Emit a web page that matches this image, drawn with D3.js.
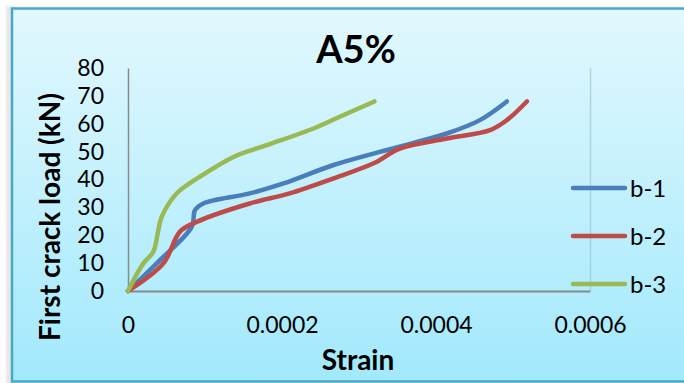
<!DOCTYPE html>
<html>
<head>
<meta charset="utf-8">
<script src="https://cdn.jsdelivr.net/npm/d3@7"></script>
<style>
  html, body { margin: 0; padding: 0; background: #fff; }
  svg { display: block; }
</style>
</head>
<body>
<svg id="chart" width="684" height="383"></svg>
<script>
// Strain readings and first crack loads (kN) for each beam
const seriesNames = ["b-1", "b-2", "b-3"];
const seriesColors = ["#4a7ebb", "#be4b48", "#98b954"];

const strainB1 = [0, 0.0000416, 0.0000827, 0.000087, 0.0000978, 0.000158, 0.000202, 0.000267, 0.000327, 0.000414, 0.000457, 0.000492];
const loadB1   = [0, 11.1, 23, 29, 31.4, 35, 38.6, 45.2, 49.9, 56.5, 61.3, 68];

const strainB2 = [0, 0.0000459, 0.0000675, 0.0000892, 0.000158, 0.00021, 0.000267, 0.000319, 0.000353, 0.000414, 0.00047, 0.000492, 0.000518];
const loadB2   = [0, 9.9, 21.3, 24.8, 31.4, 35, 40.4, 45.8, 51.1, 54.7, 57.7, 61.3, 68];

const strainB3 = [0, 0.0000199, 0.0000329, 0.0000394, 0.0000437, 0.0000632, 0.0000935, 0.000137, 0.00018, 0.000241, 0.000275, 0.00032];
const loadB3   = [0, 9.9, 14.1, 21.9, 26.6, 35, 41, 48.1, 52.3, 58.3, 62.5, 68];

const xTicks = [0, 0.0002, 0.0004, 0.0006];
const xTickLabels = ["0", "0.0002", "0.0004", "0.0006"];
const yTicks = [0, 10, 20, 30, 40, 50, 60, 70, 80];

const chartTitle = "A5%";
const xTitle = "Strain";
const yTitle = "First crack load (kN)";

const series = [
  { name: seriesNames[0], color: seriesColors[0], pts: strainB1.map((s, i) => [s, loadB1[i]]) },
  { name: seriesNames[1], color: seriesColors[1], pts: strainB2.map((s, i) => [s, loadB2[i]]) },
  { name: seriesNames[2], color: seriesColors[2], pts: strainB3.map((s, i) => [s, loadB3[i]]) }
];

const svg = d3.select("#chart");
const W = 684, H = 383;
const font = "Lato, 'Open Sans', sans-serif";

// Background panel with vertical gradient and border
const defs = svg.append("defs");
const grad = defs.append("linearGradient").attr("id", "bg").attr("x1", 0).attr("y1", 0).attr("x2", 0).attr("y2", 1);
grad.append("stop").attr("offset", "0%").attr("stop-color", "#e2f8fe");
grad.append("stop").attr("offset", "100%").attr("stop-color", "#a2e9fc");

const shadow = defs.append("filter").attr("id", "soft").attr("x", "-10%").attr("y", "-10%").attr("width", "120%").attr("height", "140%");
shadow.append("feGaussianBlur").attr("stdDeviation", 1.2);

svg.append("rect").attr("x", 0).attr("y", 0).attr("width", W).attr("height", H).attr("fill", "#fff");
svg.append("rect").attr("x", 6).attr("y", 6).attr("width", 10).attr("height", H).attr("fill", "#e8e8e8").attr("filter", "url(#soft)");
svg.append("rect")
  .attr("x", 12).attr("y", 8.5).attr("width", W).attr("height", H - 10)
  .attr("fill", "url(#bg)").attr("stroke", "#46a9c6").attr("stroke-width", 2.5);

// Plot area
const x = d3.scaleLinear().domain([0, 0.0006]).range([128, 590]);
const y = d3.scaleLinear().domain([0, 80]).range([291, 68]);

// Plot area shadow on right and bottom
svg.append("line").attr("x1", 590.5).attr("x2", 590.5).attr("y1", y(80)).attr("y2", y(0))
  .attr("stroke", "#9cc7d3").attr("stroke-width", 1.5).attr("opacity", 0.7);
svg.append("line").attr("x1", 128).attr("x2", 591).attr("y1", y(0) + 2.5).attr("y2", y(0) + 2.5)
  .attr("stroke", "#6a8f99").attr("stroke-width", 2).attr("opacity", 0.5).attr("filter", "url(#soft)");

// Axes
const xAxis = d3.axisBottom(x).tickValues(xTicks).tickFormat((d, i) => xTickLabels[i]).tickSize(0).tickPadding(26);
const yAxis = d3.axisLeft(y).tickValues(yTicks).tickSize(0).tickPadding(24);

const gx = svg.append("g").attr("transform", `translate(0,${y(0)})`).call(xAxis);
gx.select(".domain").attr("stroke", "#888").attr("stroke-width", 2);
gx.selectAll("text").attr("font-family", font).attr("font-size", 23).attr("fill", "#000");

const gy = svg.append("g").attr("transform", `translate(${x(0)},0)`).call(yAxis);
gy.select(".domain").attr("stroke", "#8a8a8a").attr("stroke-width", 1.5);
gy.selectAll("text").attr("font-family", font).attr("font-size", 23).attr("fill", "#000");

// Series lines (smoothed)
const line = d3.line().x(d => x(d[0])).y(d => y(d[1])).curve(d3.curveCatmullRom.alpha(0.5));
svg.append("g").selectAll("path").data(series).join("path")
  .attr("d", d => line(d.pts))
  .attr("fill", "none")
  .attr("stroke", d => d.color)
  .attr("stroke-width", 4.5)
  .attr("stroke-linecap", "round")
  .attr("stroke-linejoin", "round");

// Titles
svg.append("text").attr("x", 356).attr("y", 63).attr("text-anchor", "middle")
  .attr("font-family", font).attr("font-weight", 700).attr("font-size", 38).text(chartTitle);

svg.append("text").attr("x", 358).attr("y", 370).attr("text-anchor", "middle")
  .attr("font-family", font).attr("font-weight", 700).attr("font-size", 28).text(xTitle);

svg.append("text").attr("transform", "translate(60,217) rotate(-90)").attr("text-anchor", "middle")
  .attr("font-family", font).attr("font-weight", 700).attr("font-size", 28).text(yTitle);

// Legend
const legendY = [188, 236, 284];
const lg = svg.append("g").selectAll("g").data(series).join("g")
  .attr("transform", (d, i) => `translate(573,${legendY[i]})`);
lg.append("line").attr("x1", 0).attr("x2", 52).attr("y1", 0).attr("y2", 0)
  .attr("stroke", d => d.color).attr("stroke-width", 4.5).attr("stroke-linecap", "round");
lg.append("text").attr("x", 57).attr("y", 9).attr("font-family", font).attr("font-size", 24)
  .text(d => d.name);
</script>
</body>
</html>
